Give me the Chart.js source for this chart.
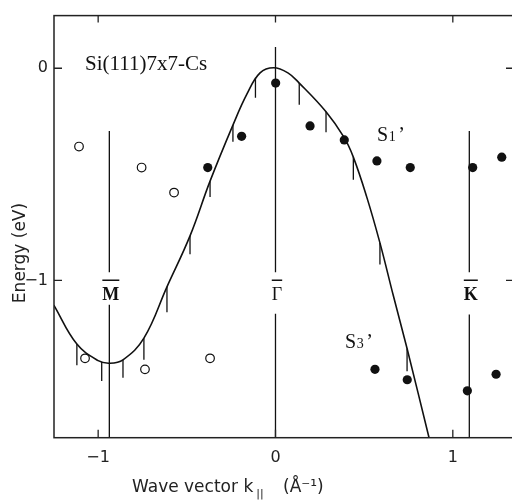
<!DOCTYPE html>
<html><head><meta charset="utf-8">
<script src="https://cdn.jsdelivr.net/npm/chart.js@4.4.1/dist/chart.umd.min.js"></script>
<style>
html,body{margin:0;padding:0;background:#fff;overflow:hidden;width:512px;height:500px}
#wrap{width:520px;height:500px;position:relative}
</style></head>
<body><div id="wrap"><canvas id="c" width="520" height="500"></canvas></div>
<script>
// ---- data ----
const xTicks = [-1, 0, 1];
const yTicks = [0, -1];
const curveK = [-1.25, -1.12, -1.0, -0.937, -0.86, -0.742, -0.612, -0.482, -0.369, -0.24, -0.16, -0.087, -0.01, 0.07, 0.134, 0.285, 0.386, 0.439, 0.514, 0.589, 0.664, 0.742, 0.866];
const curveE = [-1.116, -1.30, -1.378, -1.39, -1.374, -1.272, -1.03, -0.79, -0.532, -0.268, -0.12, -0.022, 0.002, -0.022, -0.07, -0.205, -0.325, -0.419, -0.605, -0.823, -1.07, -1.321, -1.741];
const barK = [-1.12, -0.98, -0.86, -0.742, -0.612, -0.482, -0.369, -0.24, -0.113, 0.134, 0.285, 0.439, 0.589, 0.742];
const barTop = [-1.30, -1.384, -1.374, -1.272, -1.03, -0.79, -0.532, -0.268, -0.045, -0.07, -0.205, -0.419, -0.823, -1.321];
const barBottom = [-1.40, -1.474, -1.458, -1.374, -1.15, -0.877, -0.607, -0.347, -0.139, -0.172, -0.302, -0.526, -0.925, -1.428];
const s1K = [-0.382, -0.191, 0.001, 0.195, 0.388, 0.572, 0.76, 1.112, 1.276];
const s1E = [-0.468, -0.321, -0.07, -0.272, -0.338, -0.437, -0.468, -0.468, -0.419];
const s3K = [0.561, 0.743, 1.082, 1.244];
const s3E = [-1.419, -1.468, -1.52, -1.442];
const openK = [-1.108, -0.755, -0.572, -1.074, -0.736, -0.369];
const openE = [-0.369, -0.468, -0.586, -1.367, -1.419, -1.367];
const symLabels = ['M', 'Γ', 'K'];
const symK = [-0.937, 0, 1.093];
const symTop = [-0.296, 0.1, -0.296];
const symGapTop = [-0.961, -0.961, -0.961];
const symGapBottom = [-1.115, -1.157, -1.161];
const X_MIN = -1.249, X_MAX = 1.345, Y_MIN = -1.741, Y_MAX = 0.248;

// ---- build datasets ----
const curvePts = curveK.map((k, i) => ({x: k, y: curveE[i]}));
const barPts = [];
barK.forEach((k, i) => { barPts.push({x: k, y: barTop[i]}, {x: k, y: barBottom[i]}, {x: k, y: null}); });
const symPts = [];
symK.forEach((k, i) => {
  symPts.push({x: k, y: symTop[i]}, {x: k, y: symGapTop[i]}, {x: k, y: null},
              {x: k, y: symGapBottom[i]}, {x: k, y: Y_MIN}, {x: k, y: null});
});
const pts = (K, E) => K.map((k, i) => ({x: k, y: E[i]}));

const INK = '#111';
const deco = {
  id: 'deco',
  afterDraw(chart) {
    const {ctx, chartArea: a, scales: {x, y}} = chart;
    ctx.save();
    ctx.strokeStyle = '#222';
    ctx.lineWidth = 1.5;
    ctx.strokeRect(a.left, a.top, a.right - a.left, a.bottom - a.top);
    ctx.lineWidth = 1.3;
    ctx.beginPath();
    xTicks.forEach(v => {
      const px = x.getPixelForValue(v);
      ctx.moveTo(px, a.bottom); ctx.lineTo(px, a.bottom - 8);
      ctx.moveTo(px, a.top); ctx.lineTo(px, a.top + 7);
    });
    yTicks.forEach(v => {
      const py = y.getPixelForValue(v);
      ctx.moveTo(a.left, py); ctx.lineTo(a.left + 8, py);
      ctx.moveTo(a.right, py); ctx.lineTo(a.right - 8, py);
    });
    ctx.stroke();

    // symmetry-point labels with overbars
    ctx.fillStyle = INK; ctx.strokeStyle = INK;
    symLabels.forEach((lab, i) => {
      const cx = x.getPixelForValue(symK[i]) + 1.5;
      ctx.font = (lab === 'Γ' ? '' : 'bold ') + '18px "Liberation Serif"';
      ctx.textAlign = 'center'; ctx.textBaseline = 'alphabetic';
      const by = y.getPixelForValue(-1.092);
      ctx.fillText(lab, cx, by);
      const w = ctx.measureText(lab).width;
      const oy = y.getPixelForValue(-0.999);
      ctx.lineWidth = 1.5;
      ctx.beginPath(); ctx.moveTo(cx - w / 2, oy); ctx.lineTo(cx + w / 2, oy); ctx.stroke();
    });

    // annotations
    ctx.textAlign = 'left'; ctx.textBaseline = 'alphabetic';
    ctx.font = '21px "Liberation Serif"';
    ctx.fillText('Si(111)7x7-Cs', x.getPixelForValue(-1.074), y.getPixelForValue(-0.01));
    const state = (k, e, sub) => {
      const px = x.getPixelForValue(k), py = y.getPixelForValue(e);
      ctx.font = '20px "Liberation Serif"';
      ctx.fillText('S', px, py);
      const ws = ctx.measureText('S').width;
      ctx.font = '14px "Liberation Serif"';
      ctx.fillText(sub, px + ws + 0.5, py);
      const wd = ctx.measureText(sub).width;
      ctx.font = '20px "Liberation Serif"';
      ctx.fillText('’', px + ws + wd + 3, py);
    };
    state(0.5725, -0.343, '1');
    state(0.392, -1.32, '3');

    // axis titles
    ctx.fillStyle = '#222';
    ctx.font = '17px "DejaVu Sans"';
    ctx.fillText('Wave vector k', 132, 492);
    const wt = ctx.measureText('Wave vector k').width;
    ctx.font = '11px "DejaVu Sans"';
    ctx.fillText('||', 132 + wt + 3, 497);
    ctx.font = '17px "DejaVu Sans"';
    ctx.fillText('(Å⁻¹)', 283, 492);
    ctx.save();
    ctx.translate(21, 253);
    ctx.rotate(-Math.PI / 2);
    ctx.textAlign = 'center'; ctx.textBaseline = 'middle';
    ctx.fillText('Energy (eV)', 0, 0);
    ctx.restore();
    ctx.restore();
  }
};

new Chart(document.getElementById('c'), {
  type: 'scatter',
  data: {
    datasets: [
      {data: symPts, showLine: true, borderColor: INK, borderWidth: 1.3, pointRadius: 0, spanGaps: false, tension: 0},
      {data: barPts, showLine: true, borderColor: INK, borderWidth: 1.3, pointRadius: 0, spanGaps: false, tension: 0},
      {data: curvePts, showLine: true, borderColor: INK, borderWidth: 1.6, pointRadius: 0, tension: 0.4},
      {data: pts(s1K, s1E), pointRadius: 4.6, pointBackgroundColor: INK, pointBorderColor: INK, pointBorderWidth: 0},
      {data: pts(s3K, s3E), pointRadius: 4.6, pointBackgroundColor: INK, pointBorderColor: INK, pointBorderWidth: 0},
      {data: pts(openK, openE), pointRadius: 4.3, pointBackgroundColor: '#fff', pointBorderColor: INK, pointBorderWidth: 1.2}
    ]
  },
  options: {
    responsive: false, animation: false, devicePixelRatio: 1,
    layout: {padding: {left: 0, right: 6, top: 10, bottom: 0}},
    plugins: {legend: {display: false}, tooltip: {enabled: false}},
    scales: {
      x: {
        type: 'linear', min: X_MIN, max: X_MAX,
        grid: {display: false, drawTicks: false}, border: {display: false},
        afterBuildTicks: s => { s.ticks = xTicks.map(v => ({value: v})); },
        afterFit: s => { s.height = 62.3; },
        ticks: {padding: 11, color: '#222', font: {family: 'DejaVu Sans', size: 16},
                callback: v => String(v).replace('-', '−')}
      },
      y: {
        type: 'linear', min: Y_MIN, max: Y_MAX,
        grid: {display: false, drawTicks: false}, border: {display: false},
        afterBuildTicks: s => { s.ticks = yTicks.map(v => ({value: v})); },
        afterFit: s => { s.width = 54; },
        ticks: {padding: 6, color: '#222', font: {family: 'DejaVu Sans', size: 16},
                callback: v => String(v).replace('-', '−')}
      }
    }
  },
  plugins: [deco]
});
</script>
</body></html>
